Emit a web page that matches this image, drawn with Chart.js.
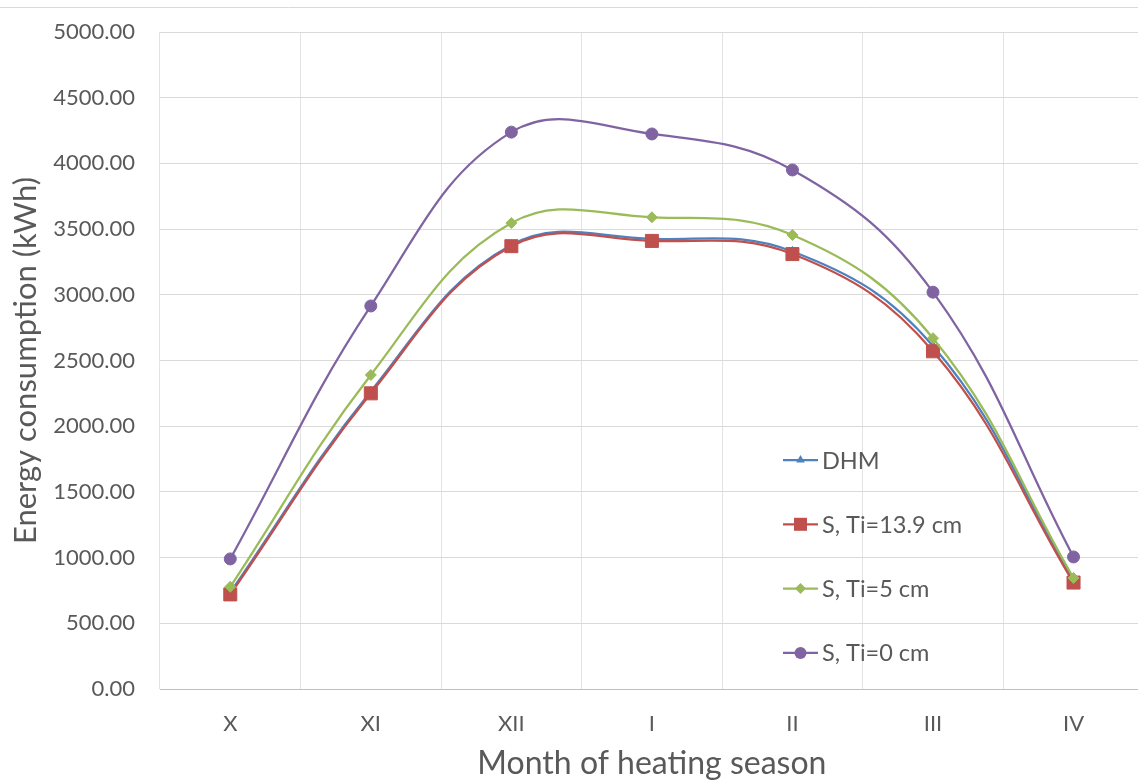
<!DOCTYPE html>
<html>
<head>
<meta charset="utf-8">
<script src="https://cdn.jsdelivr.net/npm/chart.js@4/dist/chart.umd.min.js"></script>
<style>
  html, body { margin: 0; padding: 0; background: #fff; overflow: hidden; }
  #wrap { width: 1154px; height: 783px; }
</style>
</head>
<body>
<div id="wrap"><canvas id="c" width="1154" height="783"></canvas></div>
<script>
// Months of the heating season (October .. April)
const months = ['X', 'XI', 'XII', 'I', 'II', 'III', 'IV'];

// Monthly energy consumption, kWh
const dhm   = [735, 2265, 3380, 3425, 3330, 2610, 830];
const sT139 = [720, 2250, 3370, 3410, 3310, 2570, 810];
const sT5   = [778, 2390, 3546, 3590, 3455, 2670, 845];
const sT0   = [990, 2915, 4238, 4224, 3950, 3020, 1005];

const seriesNames = ['DHM', 'S, Ti=13.9 cm', 'S, Ti=5 cm', 'S, Ti=0 cm'];

// y axis range
const yMin = 0, yMax = 5000, yStep = 500;

const FONT = 'Lato, "Open Sans", sans-serif';
const TEXT = '#595959';

const colors = {
  blue: '#4F81BD', red: '#C0504D', green: '#9BBB59', purple: '#8064A2'
};

function series(label, data, color, style, radius, order) {
  return {
    label, data, order,
    borderColor: color, backgroundColor: color,
    pointBackgroundColor: color, pointBorderColor: color,
    pointStyle: style, pointRadius: radius, pointBorderWidth: 1,
    pointHoverRadius: radius,
    borderWidth: 2.25, tension: 0.4, fill: false
  };
}

function drawMarker(ctx, style, x, y, r, color) {
  ctx.save();
  ctx.fillStyle = color;
  ctx.beginPath();
  if (style === 'circle') {
    ctx.arc(x, y, r, 0, Math.PI * 2);
  } else if (style === 'rect') {
    const s = Math.SQRT1_2 * r;
    ctx.rect(x - s, y - s, 2 * s, 2 * s);
  } else if (style === 'rectRot') {
    ctx.moveTo(x, y - r); ctx.lineTo(x + r, y);
    ctx.lineTo(x, y + r); ctx.lineTo(x - r, y);
    ctx.closePath();
  } else if (style === 'triangle') {
    ctx.moveTo(x, y - r);
    ctx.lineTo(x + r * 0.866, y + r * 0.5);
    ctx.lineTo(x - r * 0.866, y + r * 0.5);
    ctx.closePath();
  }
  ctx.fill();
  ctx.restore();
}

// Legend drawn inside the plot: a short line with the series marker, then the name
const insideLegend = {
  id: 'insideLegend',
  afterDatasetsDraw(chart, args, opts) {
    const ctx = chart.ctx;
    const sets = chart.data.datasets.slice().sort((a, b) => b.order - a.order);
    ctx.save();
    ctx.font = opts.font;
    ctx.textBaseline = 'middle';
    ctx.textAlign = 'left';
    sets.forEach((ds, i) => {
      const y = opts.top + i * opts.rowGap;
      ctx.strokeStyle = ds.borderColor;
      ctx.lineWidth = 2.25;
      ctx.beginPath();
      ctx.moveTo(opts.left, y);
      ctx.lineTo(opts.left + opts.lineLen, y);
      ctx.stroke();
      drawMarker(ctx, ds.pointStyle, opts.left + opts.lineLen / 2, y, ds.pointRadius, ds.borderColor);
      ctx.fillStyle = TEXT;
      ctx.fillText(ds.label, opts.left + opts.lineLen + 4, y + 1);
    });
    ctx.restore();
  }
};

// Thin frame line along the top of the chart
const topRule = {
  id: 'topRule',
  beforeDraw(chart) {
    const ctx = chart.ctx;
    ctx.save();
    ctx.strokeStyle = '#d9d9d9';
    ctx.lineWidth = 1;
    ctx.beginPath();
    ctx.moveTo(0, 7.5);
    ctx.lineTo(chart.width, 7.5);
    ctx.stroke();
    ctx.restore();
  }
};

new Chart(document.getElementById('c'), {
  type: 'line',
  data: {
    labels: months,
    datasets: [
      series(seriesNames[0], dhm,   colors.blue,   'triangle', 5,   4),
      series(seriesNames[1], sT139, colors.red,    'rect',     9.2, 3),
      series(seriesNames[2], sT5,   colors.green,  'rectRot',  5.5, 2),
      series(seriesNames[3], sT0,   colors.purple, 'circle',   6,   1)
    ]
  },
  options: {
    responsive: false,
    animation: false,
    layout: { padding: { top: 32, right: 3, bottom: 0, left: 0 } },
    plugins: {
      legend: { display: false },
      tooltip: { enabled: false },
      insideLegend: { left: 783, top: 460, rowGap: 64.3, lineLen: 35, font: '23.5px ' + FONT }
    },
    scales: {
      x: {
        offset: true,
        grid: { offset: true, color: '#e3e3e3', lineWidth: 1, drawTicks: false },
        border: { display: true, color: '#bfbfbf', width: 1 },
        ticks: { color: TEXT, font: { family: FONT, size: 22 }, padding: 22, maxRotation: 0 },
        title: {
          display: true, text: 'Month of heating season', color: TEXT,
          font: { family: FONT, size: 32 }, padding: { top: 0, bottom: 0 }
        },
        afterFit(s) { s.height = 94; }
      },
      y: {
        min: yMin, max: yMax,
        grid: { color: '#d9d9d9', lineWidth: 1, drawTicks: false },
        border: { display: false },
        ticks: {
          stepSize: yStep, color: TEXT, font: { family: FONT, size: 22 }, padding: 25,
          callback: v => Number(v).toFixed(2)
        },
        title: {
          display: true, text: 'Energy consumption (kWh)', color: TEXT,
          font: { family: FONT, size: 31 }, padding: { top: 7, bottom: 0 }
        },
        afterFit(s) {
          s.width = 160;
          s.paddingTop = 13;
          s.paddingBottom = 13;
        }
      }
    }
  },
  plugins: [topRule, insideLegend]
});
</script>
</body>
</html>
